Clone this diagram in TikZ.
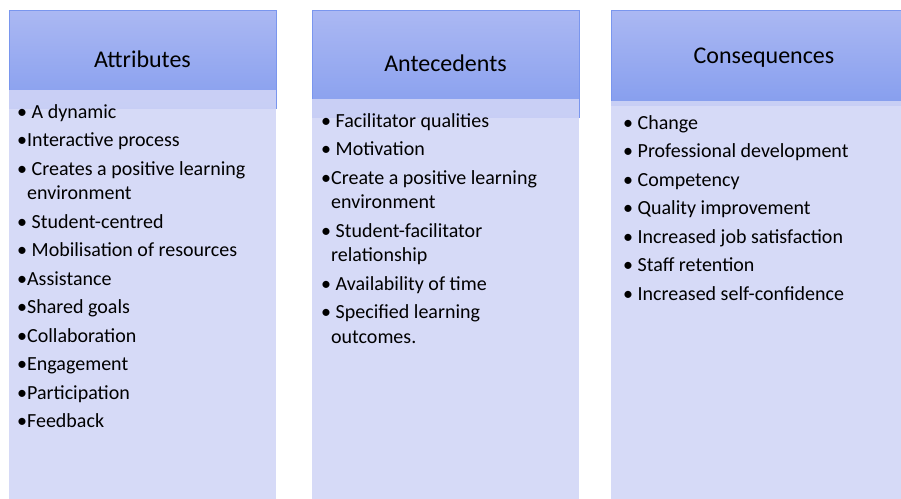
\documentclass[tikz,border=0pt]{standalone}
\usepackage{fontspec}
\setmainfont{Carlito}
\usepackage{xcolor}
\usetikzlibrary{positioning}
\definecolor{headtop}{RGB}{171,184,243}
\definecolor{headbottom}{RGB}{134,158,238}
\definecolor{headline}{RGB}{122,150,238}
\definecolor{bodyfill}{RGB}{209,213,246}
\tikzstyle{colhead}=[rectangle, draw=headline, line width=1pt, top color=headtop, bottom color=headbottom,
        anchor=north west, inner sep=0pt, outer sep=0pt, font=\fontsize{24}{29}\selectfont]
\tikzstyle{colbody}=[rectangle, fill=bodyfill, fill opacity=0.89, inner sep=0pt, outer sep=0pt]
\tikzstyle{itemlist}=[anchor=north west, align=left, inner sep=0pt, font=\fontsize{20}{24.5}\selectfont]

\begin{document}
\begin{tikzpicture}[x=1pt, y=-1pt]
        \useasboundingbox (0,0) rectangle (901,498);
        \clip (0,0) rectangle (901,498);
        % column heads
        \node (attrhead) [colhead, minimum width=267pt, minimum height=98pt] at (9,10) {Attributes};
        \node (antehead) [colhead, minimum width=267pt, minimum height=107pt] at (312,10) {Antecedents};
        \node (conshead) [colhead, minimum width=306pt, minimum height=95pt] at (611,10) {Consequences};
        % column bodies, laid over the lower edge of each head
        \node (attrbody) [colbody, minimum width=267pt, minimum height=410pt, below=-18pt of attrhead] {};
        \node (antebody) [colbody, minimum width=267pt, minimum height=410pt, below=-18pt of antehead] {};
        \node (consbody) [colbody, minimum width=306pt, minimum height=410pt, below=-4pt of conshead] {};
        % item lists
        \node (attrlist) [itemlist] at (17,104)
        {
          \textbullet\ A dynamic\\[4pt]
          \textbullet Interactive process\\[4pt]
          \textbullet\ Creates a positive learning\\
          \phantom{\textbullet}environment\\[4pt]
          \textbullet\ Student-centred\\[4pt]
          \textbullet\ Mobilisation of resources\\[4pt]
          \textbullet Assistance\\[4pt]
          \textbullet Shared goals\\[4pt]
          \textbullet Collaboration\\[4pt]
          \textbullet Engagement\\[4pt]
          \textbullet Participation\\[4pt]
          \textbullet Feedback
        };
        \node (antelist) [itemlist] at (321,113)
        {
          \textbullet\ Facilitator qualities\\[4pt]
          \textbullet\ Motivation\\[4pt]
          \textbullet Create a positive learning\\
          \phantom{\textbullet}environment\\[4pt]
          \textbullet\ Student-facilitator\\
          \phantom{\textbullet}relationship\\[4pt]
          \textbullet\ Availability of time\\[4pt]
          \textbullet\ Specified learning\\
          \phantom{\textbullet}outcomes.
        };
        \node (conslist) [itemlist] at (623,115)
        {
          \textbullet\ Change\\[4pt]
          \textbullet\ Professional development\\[4pt]
          \textbullet\ Competency\\[4pt]
          \textbullet\ Quality improvement\\[4pt]
          \textbullet\ Increased job satisfaction\\[4pt]
          \textbullet\ Staff retention\\[4pt]
          \textbullet\ Increased self-confidence
        };
      \end{tikzpicture}
\end{document}
